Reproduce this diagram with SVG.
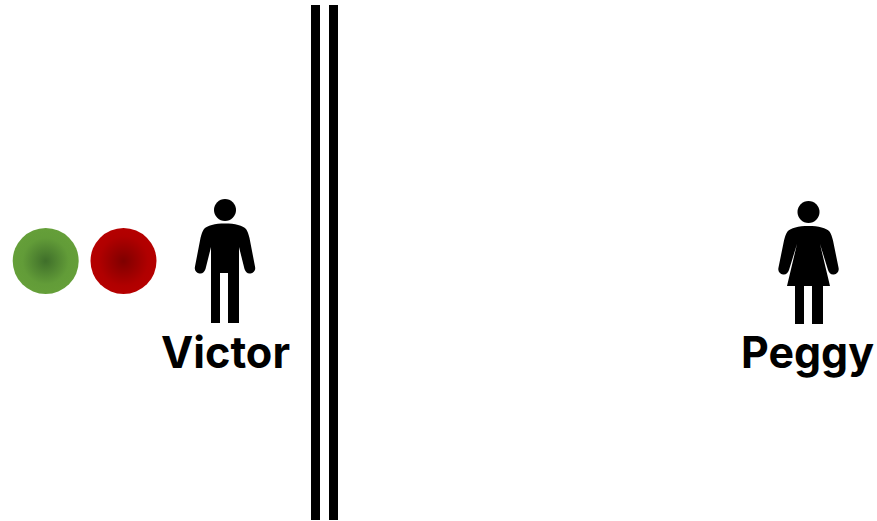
<svg xmlns="http://www.w3.org/2000/svg" width="877" height="521" viewBox="0 0 877 521">
<style>
.label{font-family:"Inter","Liberation Sans",sans-serif;font-weight:700;font-size:44px;fill:#000;text-anchor:middle}
.fig{fill:#000}
.bar{fill:#000}
</style>
<defs>
<radialGradient id="g"><stop offset="0" stop-color="#3f6f2a"/><stop offset="0.7" stop-color="#629c38"/><stop offset="1" stop-color="#659f39"/></radialGradient>
<radialGradient id="r"><stop offset="0" stop-color="#7f0000"/><stop offset="0.75" stop-color="#b00000"/><stop offset="1" stop-color="#b50000"/></radialGradient>
</defs>
<rect width="877" height="521" fill="#fff"/>
<g id="wall"><rect class="bar" x="311" y="5" width="9" height="515"/><rect class="bar" x="329" y="5" width="9" height="515"/></g>
<g id="ball-green"><circle cx="45.700" cy="261" r="33" fill="url(#g)"/></g>
<g id="ball-red"><circle cx="123.500" cy="261" r="33" fill="url(#r)"/></g>
<g id="victor">
<circle class="fig" cx="225" cy="210" r="11"/>
<path class="fig" d="M225 223.500C235 223.500 243 225.500 246 229C247.500 231 248.500 234 249.500 238L255 266.500C256 270.500 253.500 273 250.500 273.500C247.500 274 245.500 272 244.500 269L239 247V323H228V273H220V323H211V247L205.500 269C204.500 272 202.500 274 199.500 273.500C196.500 273 194 270.500 195 266.500L200.500 238C201.500 234 202.500 231 204 229C207 225.500 215 223.500 225 223.500Z"/>
<text class="label" x="225.500" y="368" textLength="129" lengthAdjust="spacingAndGlyphs">Victor</text>
</g>
<g id="peggy">
<circle class="fig" cx="808.500" cy="212" r="11"/>
<path class="fig" d="M808.500 226C818.500 226 826.500 228 829.500 231.500C831 233.500 832 236.500 833 240.500L838.500 267.500C839.500 271.500 837 274 834 274.500C831 275 829 273 828 270L820 244L830 286H823V324H812V286H804V324H795V286H787L797 244L789 270C788 273 786 275 783 274.500C780 274 777.500 271.500 778.500 267.500L784 240.500C785 236.500 786 233.500 787.500 231.500C790.500 228 798.500 226 808.500 226Z"/>
<text class="label" x="807.500" y="368" textLength="133" lengthAdjust="spacingAndGlyphs">Peggy</text>
</g>
</svg>
